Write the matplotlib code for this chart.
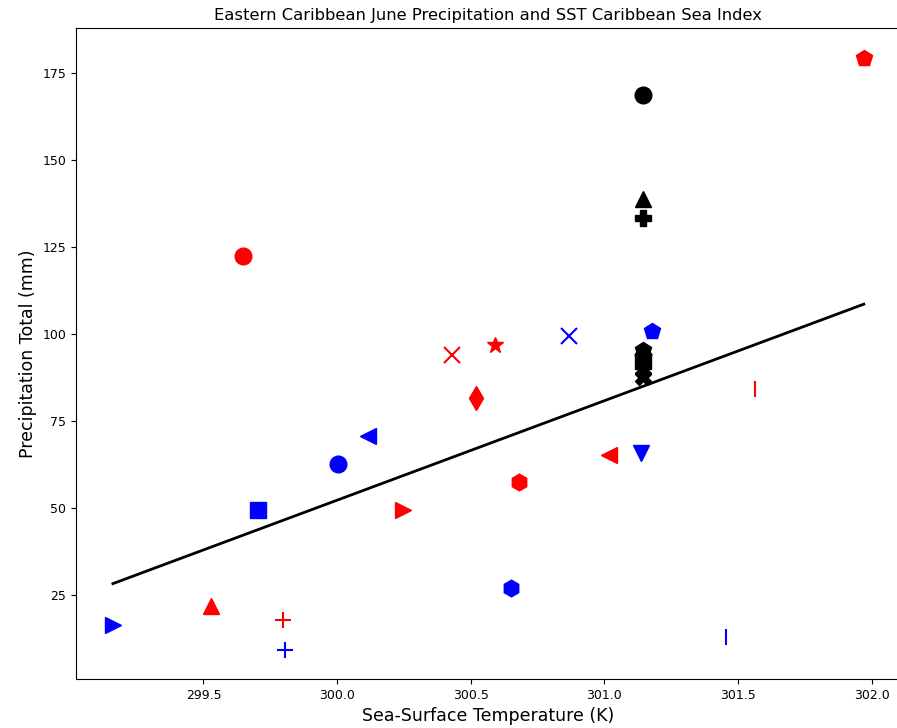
#Scatter of June precipitation against Caribbean Sea SST, one marker per year
#with the least squares line drawn over the top
import matplotlib
matplotlib.use('Agg')
import matplotlib.pyplot as plt
import numpy as np

# Red years
red_sst = [299.648, 299.528, 299.797, 301.971, 300.430, 300.590, 300.519, 300.680, 300.246, 301.017, 301.563]
red_pcp = [122.4, 21.8, 17.8, 179.2, 94.0, 97.0, 81.5, 57.5, 49.4, 65.4, 84.2]
red_mk = ['o', '^', '+', 'p', 'x', '*', 'd', 'h', '>', '<', '|']

# Blue years
blue_sst = [299.161, 299.805, 299.704, 300.003, 300.115, 300.650, 300.867, 301.178, 301.137, 301.457]
blue_pcp = [16.4, 9.2, 49.4, 62.8, 70.6, 27.0, 99.4, 100.9, 65.7, 12.9]
blue_mk = ['>', '+', 's', 'o', '<', 'h', 'x', 'p', 'v', '|']

# Black years (index averages)
black_sst = [301.144, 301.144, 301.144, 301.144, 301.144, 301.144, 301.144, 301.144]
black_pcp = [168.8, 138.8, 133.5, 95.4, 94.0, 92.4, 89.6, 87.6]
black_mk = ['o', '^', 'P', 'p', 'H', 's', 'X', 'X']

# Regression line end points
fit_sst = [299.161, 301.971]
fit_pcp = [28.3, 108.6]

# line-only markers need a heavier stroke to show up
thin = ['+', 'x', '|']

fig = plt.figure(figsize=(8.97, 7.28), dpi=100)
ax = fig.add_axes([0.0847, 0.0673, 0.9197, 0.894])

def put(sst_list, pcp_list, mk_list, col):
    for sst, pcp, mk in zip(sst_list, pcp_list, mk_list):
        mew = 1.5 if mk in thin else 1.0
        ax.plot(sst, pcp, marker=mk, color=col, markersize=12, markeredgewidth=mew, linestyle='none')

put(red_sst, red_pcp, red_mk, 'red')
put(blue_sst, blue_pcp, blue_mk, 'blue')
put(black_sst, black_pcp, black_mk, 'black')

ax.plot(fit_sst, fit_pcp, color='black', linewidth=2)

ax.set_xlim(299.023, 302.11)
ax.set_ylim(0.9, 187.9)
ax.set_xticks([299.5, 300.0, 300.5, 301.0, 301.5, 302.0])
ax.set_yticks([25, 50, 75, 100, 125, 150, 175])
ax.tick_params(labelsize=9)

ax.set_title('Eastern Caribbean June Precipitation and SST Caribbean Sea Index', fontsize=11.75)
ax.set_xlabel('Sea-Surface Temperature (K)', fontsize=12.5)
ax.set_ylabel('Precipitation Total (mm)', fontsize=12.5)

plt.savefig('out.png', dpi=100)
